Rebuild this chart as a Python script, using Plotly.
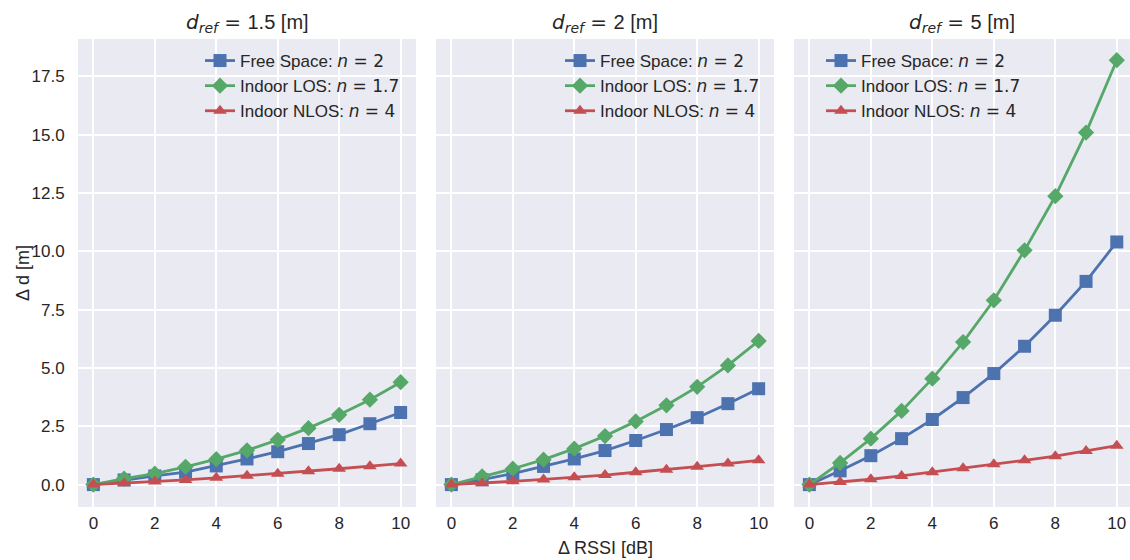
import plotly.graph_objects as go

# ---------------- data ----------------
rssi = [0, 1, 2, 3, 4, 5, 6, 7, 8, 9, 10]
d_refs = ["1.5", "2", "5"]

# d_ref = 1.5 m
fs_15 = [0, 0.20, 0.37, 0.53, 0.80, 1.10, 1.41, 1.76, 2.14, 2.61, 3.09]
los_15 = [0, 0.26, 0.47, 0.76, 1.09, 1.47, 1.92, 2.42, 2.99, 3.64, 4.39]
nlos_15 = [0, 0.06, 0.13, 0.20, 0.29, 0.38, 0.47, 0.57, 0.68, 0.79, 0.90]
# d_ref = 2 m
fs_2 = [0, 0.21, 0.47, 0.78, 1.10, 1.46, 1.89, 2.36, 2.87, 3.47, 4.11]
los_2 = [0, 0.35, 0.68, 1.07, 1.54, 2.08, 2.71, 3.40, 4.19, 5.11, 6.16]
nlos_2 = [0, 0.06, 0.14, 0.22, 0.31, 0.41, 0.53, 0.64, 0.77, 0.90, 1.04]
# d_ref = 5 m
fs_5 = [0, 0.59, 1.24, 1.97, 2.79, 3.73, 4.76, 5.93, 7.26, 8.71, 10.40]
los_5 = [0, 0.93, 1.97, 3.16, 4.54, 6.11, 7.90, 10.04, 12.36, 15.09, 18.19]
nlos_5 = [0, 0.11, 0.23, 0.37, 0.53, 0.70, 0.87, 1.04, 1.22, 1.44, 1.67]

series_labels = ["Free Space: ", "Indoor LOS: ", "Indoor NLOS: "]
series_n = ["2", "1.7", "4"]
panels = [[fs_15, los_15, nlos_15], [fs_2, los_2, nlos_2], [fs_5, los_5, nlos_5]]

y_ticks = [0, 2.5, 5.0, 7.5, 10.0, 12.5, 15.0, 17.5]
y_ticktext = ["0.0", "2.5", "5.0", "7.5", "10.0", "12.5", "15.0", "17.5"]
x_ticks = [0, 2, 4, 6, 8, 10]

# ---------------- style ----------------
colors = ["#4C72B0", "#55A868", "#C44E52"]
symbols = ["square", "diamond", "triangle-up"]
msizes = [13, 12.5, 12]
FONT = "Liberation Sans, Arial, sans-serif"
MATH = "DejaVu Sans"
TXT = "#262626"
BG = "#EAEAF2"

W, H = 1130, 560
ML, MR, MT, MB = 78, 0, 39, 53
PW = W - ML - MR
PH = H - MT - MB
px = lambda p: (p - ML) / PW
py = lambda p: (H - MB - p) / PH
domains = [[0, px(416)], [px(436), px(774)], [px(794), 1.0]]
x_ranges = [[-0.5, 10.5], [-0.5, 10.5], [-0.5, 10.43]]
y_range = [-0.96, 19.1]


def math(s):
    return f"<span style='font-family:{MATH}'>{s}</span>"


fig = go.Figure()
legend_names = ["legend", "legend2", "legend3"]
for pi, data in enumerate(panels):
    xa = "x" if pi == 0 else f"x{pi+1}"
    ya = "y" if pi == 0 else f"y{pi+1}"
    for si, vals in enumerate(data):
        fig.add_trace(go.Scatter(
            x=rssi, y=vals, mode="lines+markers",
            name=series_labels[si] + math(f"<i>n</i> = {series_n[si]}"),
            xaxis=xa, yaxis=ya,
            line=dict(color=colors[si], width=2.8),
            marker=dict(symbol=symbols[si], size=msizes[si], color=colors[si]),
            legend=legend_names[pi], legendgroup=f"p{pi}s{si}",
            showlegend=True,
        ))

layout = dict(
    width=W, height=H,
    margin=dict(l=ML, r=MR, t=MT, b=MB),
    paper_bgcolor="white", plot_bgcolor=BG,
    font=dict(family=FONT, size=17, color=TXT),
)
for pi in range(3):
    xk = "xaxis" if pi == 0 else f"xaxis{pi+1}"
    yk = "yaxis" if pi == 0 else f"yaxis{pi+1}"
    layout[xk] = dict(
        domain=domains[pi], range=x_ranges[pi], anchor="y" if pi == 0 else f"y{pi+1}",
        tickvals=x_ticks, showgrid=True, gridcolor="white", gridwidth=1.6,
        zeroline=False, showline=False, ticks="outside", ticklen=1, tickcolor="rgba(0,0,0,0)",
        tickfont=dict(size=17, color=TXT),
    )
    layout[yk] = dict(
        domain=[0, 1], range=y_range, anchor="x" if pi == 0 else f"x{pi+1}",
        tickvals=y_ticks, ticktext=y_ticktext, showticklabels=(pi == 0),
        showgrid=True, gridcolor="white", gridwidth=1.6,
        zeroline=False, showline=False, ticks="outside", ticklen=9, tickcolor="rgba(0,0,0,0)",
        tickfont=dict(size=17, color=TXT),
    )

leg_x = [px(200), px(560), px(821)]
for pi, ln in enumerate(legend_names):
    layout[ln] = dict(
        x=leg_x[pi], y=py(43), xanchor="left", yanchor="top",
        bgcolor="rgba(0,0,0,0)", borderwidth=0, font=dict(size=17, color=TXT),
        tracegroupgap=0, traceorder="grouped",
    )
fig.update_layout(**layout)

for pi, dr in enumerate(d_refs):
    xd = "x domain" if pi == 0 else f"x{pi+1} domain"
    fig.add_annotation(
        text=math("<i>d</i><sub><i>ref</i></sub> = ") + f"{dr} [m]", xref=xd, yref="paper",
        x=0.5, y=py(23), xanchor="center", yanchor="middle", showarrow=False,
        font=dict(size=20, color=TXT),
    )

fig.add_annotation(text="Δ RSSI [dB]", xref="paper", yref="paper", x=px(605), y=py(548),
                   xanchor="center", yanchor="middle", showarrow=False,
                   font=dict(size=18, color=TXT))
fig.add_annotation(text="Δ d [m]", xref="paper", yref="paper", x=px(23), y=py(273),
                   xanchor="center", yanchor="middle", showarrow=False, textangle=-90,
                   font=dict(size=18, color=TXT))

fig.write_html("out.html", config={"displayModeBar": False},
               post_script="document.body.style.margin='0';")
